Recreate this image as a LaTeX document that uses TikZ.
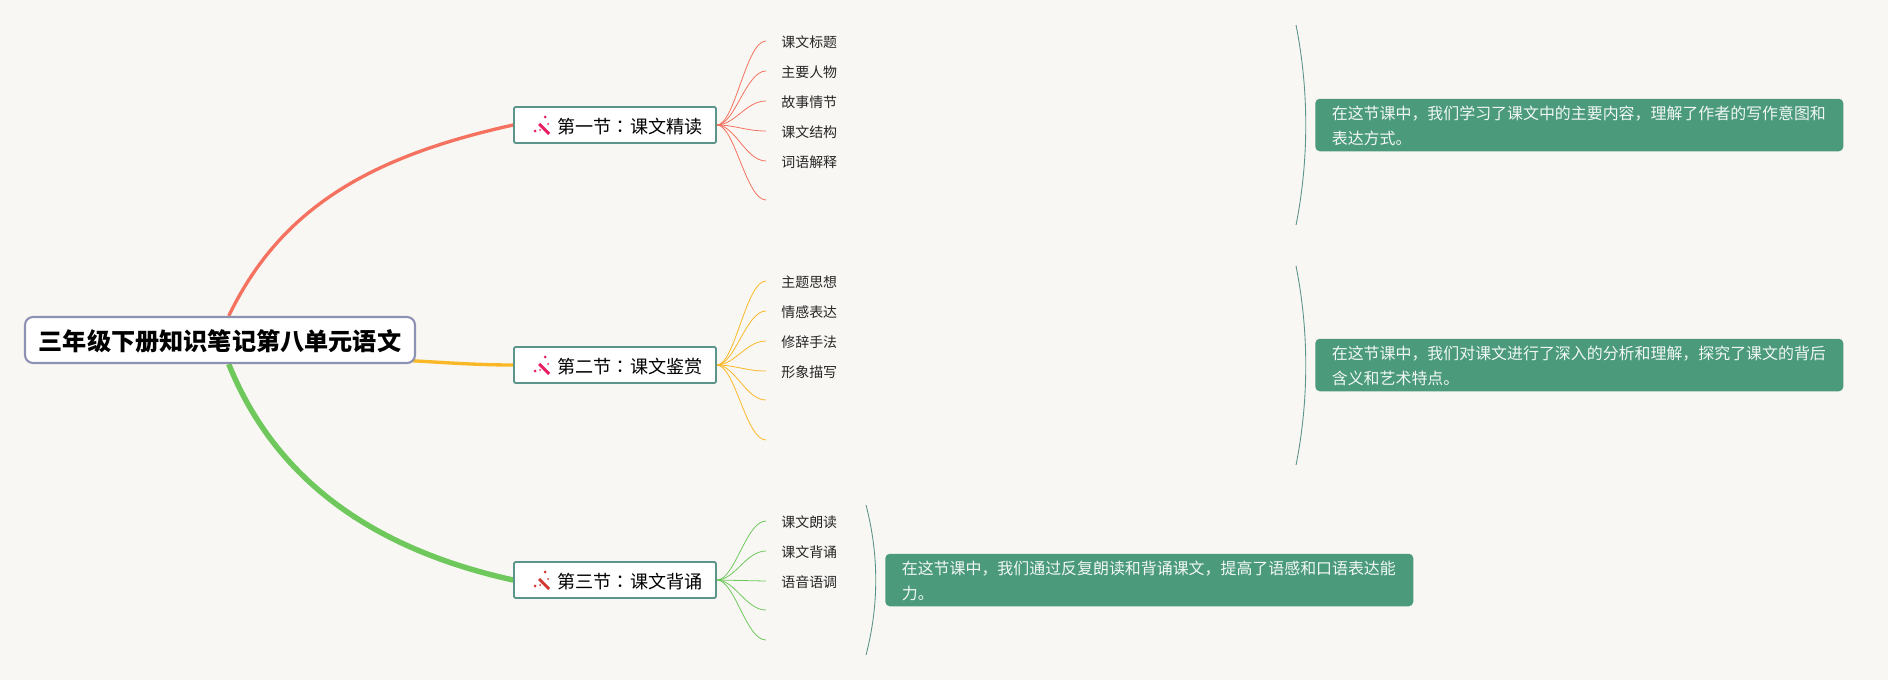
\documentclass[tikz,border=0pt]{standalone}
\usepackage{fontspec}
\setmainfont{Noto Sans CJK SC}
\newfontfamily\colonfont{Noto Sans CJK TC}
\usepackage{tikz}
\usetikzlibrary{
  positioning,
  calc,
  backgrounds
}
\definecolor{paper}{HTML}{F9F7F3}
\definecolor{rootline}{HTML}{8D92B2}
\definecolor{secline}{HTML}{5B9488}
\definecolor{notefill}{HTML}{4B9A7C}
\definecolor{redline}{HTML}{F4725F}
\definecolor{yellowline}{HTML}{FBB826}
\definecolor{greenline}{HTML}{6FC85C}
\definecolor{wandpink}{HTML}{E91E63}
\definecolor{wandred}{HTML}{D3362F}
\tikzstyle{rootbox}=[draw=rootline, line width=1.2pt, fill=white, rounded corners=4.5pt, minimum width=7.8cm, minimum height=0.92cm, inner sep=0pt, text height=13.3pt, text depth=1.65pt, font=\fontsize{13.75}{16}\selectfont\bfseries]
\tikzstyle{secbox}=[draw=secline, line width=1pt, fill=white, rounded corners=0.8pt, minimum width=4.04cm, minimum height=0.72cm, inner sep=0pt, text height=11.06pt, text depth=1.24pt, font=\fontsize{10.3}{12}\selectfont]
\tikzstyle{leaf}=[anchor=west, inner xsep=0.30cm, inner ysep=0pt, text height=7.8pt, text depth=0.95pt, font=\fontsize{7.94}{10}\selectfont, text=black!85]
\tikzstyle{notebox}=[anchor=west, fill=notefill, rounded corners=2.5pt, text=white!92!notefill, align=left, inner xsep=0.33cm, inner ysep=0pt, minimum height=1.05cm, text width=9.9cm, font=\fontsize{9.07}{14.2}\selectfont, execute at begin node=\rule{0pt}{9.2pt}]
\tikzstyle{twig}=[line width=0.45pt]
\tikzstyle{brace}=[secline, line width=0.5pt]
\tikzset{
  pics/wand/.style={code={
    \draw[line width=1.7pt] (-4,-1) -- (6,9);
    \fill (2,-8) circle (0.9pt);
    \fill (-8,6) circle (0.9pt);
    \fill (5,-1) circle (0.6pt);
    \fill (-3,5) circle (0.6pt);
  }}
}
\newcommand{\secpad}{\hspace{0.60cm}}
\newcommand{\seccolon}{{\colonfont ：}}
\begin{document}
\begin{tikzpicture}[x=0.02cm, y=-0.02cm]
        \useasboundingbox (0,0) rectangle (1888,680);

        % 中心主题
        \node[rootbox] (root) at (220,340) {三年级下册知识笔记第八单元语文};

        % 三个小节
        \node[secbox] (secA) at (615,125) {\secpad 第一节\seccolon 课文精读};
        \node[secbox] (secB) at (615,365) {\secpad 第二节\seccolon 课文鉴赏};
        \node[secbox] (secC) at (615,580) {\secpad 第三节\seccolon 课文背诵};

        % 小图标
        \pic[color=wandpink, fill=wandpink] at ($(secA.west)+(30,0)$) {wand};
        \pic[color=wandpink, fill=wandpink] at ($(secB.west)+(30,0)$) {wand};
        \pic[color=wandred, fill=wandred] at ($(secC.west)+(30,0)$) {wand};

        % 第一节的子项
        \node[leaf] (leafAa) at (766,41) {课文标题};
        \node[leaf] (leafAb) at (766,71) {主要人物};
        \node[leaf] (leafAc) at (766,101) {故事情节};
        \node[leaf] (leafAd) at (766,131) {课文结构};
        \node[leaf] (leafAe) at (766,161) {词语解释};
        \coordinate (leafAf) at (766,200);

        % 第二节的子项
        \node[leaf] (leafBa) at (766,281) {主题思想};
        \node[leaf] (leafBb) at (766,311) {情感表达};
        \node[leaf] (leafBc) at (766,341) {修辞手法};
        \node[leaf] (leafBd) at (766,371) {形象描写};
        \coordinate (leafBe) at (766,400);
        \coordinate (leafBf) at (766,440);

        % 第三节的子项
        \node[leaf] (leafCa) at (766,521) {课文朗读};
        \node[leaf] (leafCb) at (766,551) {课文背诵};
        \node[leaf] (leafCc) at (766,581) {语音语调};
        \coordinate (leafCd) at (766,610);
        \coordinate (leafCe) at (766,640);

        % 总结
        \node[notebox] (noteA) at (1315,125) {在这节课中，我们学习了课文中的主要内容，理解了作者的写作意图和\\表达方式。};
        \node[notebox] (noteB) at (1315,365) {在这节课中，我们对课文进行了深入的分析和理解，探究了课文的背后\\含义和艺术特点。};
        \node[notebox] (noteC) at (885,580) {在这节课中，我们通过反复朗读和背诵课文，提高了语感和口语表达能\\力。};

        % 括号
        \coordinate (braceAt) at (1296,25);
        \coordinate (braceAb) at (1296,225);
        \coordinate (braceBt) at (1296,266);
        \coordinate (braceBb) at (1296,465);
        \coordinate (braceCt) at (866,505);
        \coordinate (braceCb) at (866,655);
        \draw[brace] (braceAt) .. controls +(13,65) and +(13,-65) .. (braceAb);
        \draw[brace] (braceBt) .. controls +(13,65) and +(13,-65) .. (braceBb);
        \draw[brace] (braceCt) .. controls +(13,50) and +(13,-50) .. (braceCb);

        \begin{scope}[on background layer]
          \fill[paper] (0,0) rectangle (1888,680);

          % 主干
          \draw[redline, line width=1.9pt] (root.70) .. controls +(53,-110) and +(-140,31) .. (secA.west);
          \draw[yellowline, line width=1.9pt] ($(root.-6)+(-6,0)$) .. controls +(35,2) and +(-35,0) .. (secB.west);
          \draw[greenline, line width=3.1pt] (root.-70) .. controls +(45,112) and +(-145,-32) .. (secC.west);

          % 第一节的分支
          \draw[twig, redline] (secA.east) .. controls +(18,0) and +(-20,0) .. (leafAa.west);
          \draw[twig, redline] (secA.east) .. controls +(18,0) and +(-20,0) .. (leafAb.west);
          \draw[twig, redline] (secA.east) .. controls +(18,0) and +(-20,0) .. (leafAc.west);
          \draw[twig, redline] (secA.east) .. controls +(18,0) and +(-20,0) .. (leafAd.west);
          \draw[twig, redline] (secA.east) .. controls +(18,0) and +(-20,0) .. (leafAe.west);
          \draw[twig, redline] (secA.east) .. controls +(18,0) and +(-20,0) .. (leafAf);

          % 第二节的分支
          \draw[twig, yellowline] (secB.east) .. controls +(18,0) and +(-20,0) .. (leafBa.west);
          \draw[twig, yellowline] (secB.east) .. controls +(18,0) and +(-20,0) .. (leafBb.west);
          \draw[twig, yellowline] (secB.east) .. controls +(18,0) and +(-20,0) .. (leafBc.west);
          \draw[twig, yellowline] (secB.east) .. controls +(18,0) and +(-20,0) .. (leafBd.west);
          \draw[twig, yellowline] (secB.east) .. controls +(18,0) and +(-20,0) .. (leafBe);
          \draw[twig, yellowline] (secB.east) .. controls +(18,0) and +(-20,0) .. (leafBf);

          % 第三节的分支
          \draw[twig, greenline] (secC.east) .. controls +(18,0) and +(-20,0) .. (leafCa.west);
          \draw[twig, greenline] (secC.east) .. controls +(18,0) and +(-20,0) .. (leafCb.west);
          \draw[twig, greenline] (secC.east) -- (leafCc.west);
          \draw[twig, greenline] (secC.east) .. controls +(18,0) and +(-20,0) .. (leafCd);
          \draw[twig, greenline] (secC.east) .. controls +(18,0) and +(-20,0) .. (leafCe);
        \end{scope}
      \end{tikzpicture}
\end{document}
